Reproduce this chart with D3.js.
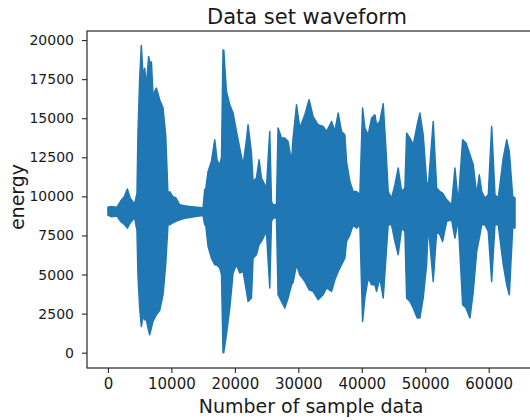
<!DOCTYPE html>
<html>
<head>
<meta charset="utf-8">
<script src="https://cdn.jsdelivr.net/npm/d3@7"></script>
<style>
  html, body { margin: 0; padding: 0; background: #fff; }
  svg { display: block; font-family: "DejaVu Sans", sans-serif; }
</style>
</head>
<body>
<svg id="chart" width="530" height="420"></svg>
<script>
// Envelope of the waveform: sample index, upper and lower energy
const sampleIndex = [
  0, 500, 1400, 2000, 2600, 3060, 3500, 4200, 4580, 4730,
  5000, 5260, 5520, 5800, 6050, 6420, 6580, 6850, 7100, 7630,
  8150, 8680, 9100, 9460, 9730, 10200, 10700, 11310, 12100, 12890,
  14000, 14990, 15250, 15410, 15780, 16310, 16830, 17200, 17620, 17900,
  18140, 18250, 18670, 19200, 19720, 20250, 20770, 21300, 21800, 22080,
  22610, 22870, 23400, 23820, 24190, 24980, 25500, 25770, 26030, 26560,
  26810, 27350, 27870, 28390, 28930, 29180, 29720, 30240, 31030, 31700,
  32330, 33120, 33910, 34450, 35240, 35760, 36280, 36810, 37330, 37600,
  38120, 38640, 39180, 39700, 40130, 40490, 41010, 41550, 42070, 42330,
  42850, 43380, 43800, 44160, 44700, 45220, 45740, 46280, 46800, 47070,
  47590, 48110, 48740, 49160, 49680, 50220, 50470, 51260, 51800, 52320,
  52740, 53380, 54160, 54680, 55200, 55900, 56420, 57050, 57570, 58110,
  58520, 58900, 59420, 59940, 60470, 60990, 61510, 62300, 62840, 63250,
  63780, 64150
];
const upperEnergy = [
  9300, 9350, 9300, 9700, 10000, 10470, 9900, 9500, 10200, 14000,
  17500, 19650, 17800, 18200, 17000, 18950, 18600, 18600, 16500, 16930,
  16180, 15650, 13940, 10100, 10300, 10000, 9900, 9460, 9400, 9350,
  9300, 9250, 10450, 10450, 11590, 12230, 13620, 12300, 12020, 12500,
  19370, 19370, 16710, 15860, 15330, 14150, 13090, 12020, 13500, 14580,
  12800, 10950, 11170, 12340, 11170, 10530, 14150, 9670, 9460, 9460,
  14370, 13730, 13730, 13510, 12230, 13730, 15860, 14370, 15220, 16180,
  15100, 14580, 14470, 14150, 14790, 14150, 15330, 14150, 13940, 12230,
  10950, 10310, 10310, 10100, 15650, 14370, 13940, 15010, 15220, 14580,
  14790, 15920, 13090, 10310, 9890, 10740, 11810, 10310, 10530, 14050,
  13730, 13300, 14580, 15330, 13940, 10950, 10530, 14790, 10530, 10310,
  10200, 9780, 9460, 11810, 9570, 13620, 13410, 12660, 12020, 10100,
  11380, 10310, 9890, 10100, 14470, 10100, 9890, 12450, 13620, 12870,
  10000, 9890
];
const lowerEnergy = [
  8800, 8700, 8750, 8400, 8200, 7970, 8300, 8650, 7800, 4990,
  2880, 1680, 2300, 2100, 2100, 1400, 1150, 1600, 2000, 2430,
  2700, 3710, 5630, 8180, 8180, 8300, 8400, 8500, 8600, 8650,
  8720, 8780, 8180, 8180, 6800, 6050, 5630, 5600, 5410, 5000,
  0, 0, 1150, 2860, 5100, 5630, 5100, 5200, 4000, 3280,
  3500, 6050, 6270, 6910, 7120, 7760, 4140, 8400, 8610, 8610,
  3710, 3280, 2860, 3500, 4350, 4500, 5630, 4990, 4560, 4030,
  3920, 3390, 3710, 4140, 3920, 4670, 5200, 5630, 6050, 7120,
  7540, 8180, 7970, 8180, 2000, 3500, 4780, 4350, 4350, 3920,
  4780, 3500, 6050, 8180, 8180, 7120, 6270, 7970, 7760, 3500,
  3280, 2860, 2220, 2220, 3500, 5630, 8180, 4560, 7760, 7540,
  7120, 8400, 8500, 7330, 8500, 3070, 2860, 2220, 3920, 6480,
  7330, 8180, 8180, 7760, 4560, 8180, 8180, 5630, 4350, 3710,
  7970, 7970
];
const xTicks = [0, 10000, 20000, 30000, 40000, 50000, 60000];
const yTicks = [0, 2500, 5000, 7500, 10000, 12500, 15000, 17500, 20000];

const titleText = "Data set waveform";
const xLabelText = "Number of sample data";
const yLabelText = "energy";

const data = sampleIndex.map((s, i) => ({ s, hi: upperEnergy[i], lo: lowerEnergy[i] }));

const svg = d3.select("#chart");
const pL = 87, pR = 535, pT = 31, pB = 368;
const x = d3.scaleLinear().domain([-3300, 67300]).range([pL, pR]);
const y = d3.scaleLinear().domain([-980, 20580]).range([pB, pT]);
const color = "#1f77b4";

svg.append("defs").append("clipPath").attr("id", "clip")
  .append("rect").attr("x", pL).attr("y", pT).attr("width", pR - pL).attr("height", pB - pT);

const area = d3.area()
  .x(d => x(d.s))
  .y0(d => y(d.lo))
  .y1(d => y(d.hi))
  .curve(d3.curveLinear);

svg.append("path")
  .datum(data)
  .attr("clip-path", "url(#clip)")
  .attr("d", area)
  .attr("fill", color)
  .attr("stroke", color)
  .attr("stroke-width", 1.5)
  .attr("stroke-linejoin", "round");

// frame
svg.append("rect")
  .attr("x", pL).attr("y", pT)
  .attr("width", pR - pL).attr("height", pB - pT)
  .attr("fill", "none").attr("stroke", "#262626").attr("stroke-width", 1.2);

// axes
const xAxis = d3.axisBottom(x).tickValues(xTicks).tickFormat(d3.format("d")).tickSize(5).tickPadding(5).tickSizeOuter(0);
const gx = svg.append("g").attr("transform", `translate(0,${pB})`).call(xAxis);
gx.select(".domain").remove();
gx.selectAll("line").attr("stroke", "#262626").attr("stroke-width", 1.1);
gx.selectAll("text").attr("font-size", 15).attr("fill", "#1a1a1a").attr("font-family", "DejaVu Sans");

const yAxis = d3.axisLeft(y).tickValues(yTicks).tickFormat(d3.format("d")).tickSize(5).tickPadding(8).tickSizeOuter(0);
const gy = svg.append("g").attr("transform", `translate(${pL},0)`).call(yAxis);
gy.select(".domain").remove();
gy.selectAll("line").attr("stroke", "#262626").attr("stroke-width", 1.1);
gy.selectAll("text").attr("font-size", 14).attr("fill", "#1a1a1a").attr("font-family", "DejaVu Sans");

// title and labels
svg.append("text").attr("x", 307).attr("y", 24).attr("text-anchor", "middle")
  .attr("font-size", 21).attr("fill", "#1a1a1a").text(titleText);
svg.append("text").attr("x", 311).attr("y", 413).attr("text-anchor", "middle")
  .attr("font-size", 19).attr("fill", "#1a1a1a").text(xLabelText);
svg.append("text").attr("transform", "translate(24,197) rotate(-90)").attr("text-anchor", "middle")
  .attr("font-size", 19).attr("fill", "#1a1a1a").text(yLabelText);
</script>
</body>
</html>
